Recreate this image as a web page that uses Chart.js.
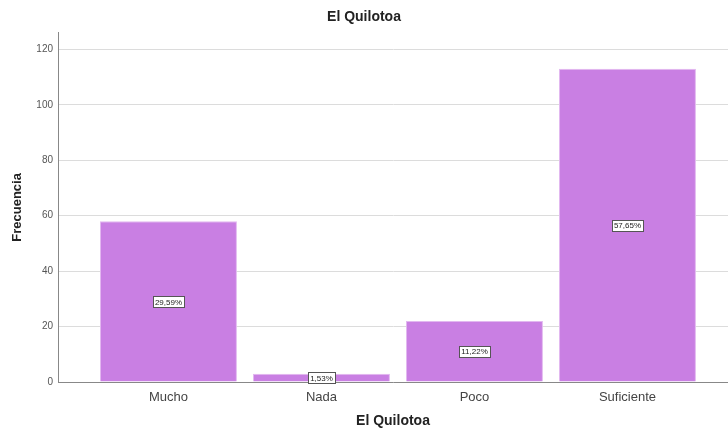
<!DOCTYPE html>
<html>
<head>
<meta charset="utf-8">
<script src="https://cdn.jsdelivr.net/npm/chart.js@4"></script>
<style>
  html, body { margin: 0; padding: 0; background: #fff; }
  #wrap { width: 728px; height: 432px; }
</style>
</head>
<body>
<div id="wrap"><canvas id="chart"></canvas></div>
<script>
// --- data ---
const categories = ['Mucho', 'Nada', 'Poco', 'Suficiente'];
const frequencies = [58, 3, 22, 113];
const percentLabels = ['29,59%', '1,53%', '11,22%', '57,65%'];
const yTicks = [0, 20, 40, 60, 80, 100, 120];

const FONT = "'Liberation Sans', Arial, sans-serif";

// white boxed percentage in the middle of every bar
const boxLabels = {
    id: 'boxLabels',
    afterDatasetsDraw(chart) {
        const c = chart.ctx;
        const meta = chart.getDatasetMeta(0);
        c.save();
        c.font = '8px ' + FONT;
        c.textAlign = 'center';
        c.textBaseline = 'middle';
        meta.data.forEach((bar, i) => {
            const p = bar.getProps(['x', 'y', 'base'], true);
            const cy = (p.y + p.base) / 2;
            const w = c.measureText(percentLabels[i]).width + 4;
            const h = 11;
            c.fillStyle = '#fff';
            c.fillRect(Math.round(p.x - w / 2) + 0.5, Math.round(cy - h / 2) + 0.5, Math.round(w), h);
            c.strokeStyle = '#555';
            c.lineWidth = 1;
            c.strokeRect(Math.round(p.x - w / 2) + 0.5, Math.round(cy - h / 2) + 0.5, Math.round(w), h);
            c.fillStyle = '#222';
            c.fillText(percentLabels[i], p.x, cy + 1);
        });
        c.restore();
    }
};

new Chart(document.getElementById('chart'), {
    type: 'bar',
    data: {
        datasets: [{
            data: frequencies.map((v, i) => ({ x: i, y: v })),
            backgroundColor: '#C97FE3',
            borderColor: '#E2B8F0',
            borderWidth: 1,
            categoryPercentage: 1,
            barPercentage: 0.895
        }]
    },
    options: {
        responsive: true,
        maintainAspectRatio: false,
        animation: false,
        layout: { padding: 0 },
        plugins: {
            legend: { display: false },
            tooltip: { enabled: false },
            title: {
                display: true,
                text: 'El Quilotoa',
                color: '#222',
                font: { family: FONT, size: 14, weight: 'bold' },
                padding: { top: 9, bottom: 7 }
            }
        },
        scales: {
            x: {
                type: 'linear',
                offset: false,
                min: -0.722,
                max: 3.657,
                grid: { display: false, drawTicks: false },
                border: { display: true, color: '#888', width: 1 },
                afterBuildTicks: s => { s.ticks = categories.map((_, i) => ({ value: i })); },
                afterFit: s => { s.height = 50; },
                ticks: {
                    padding: 8,
                    color: '#444',
                    maxRotation: 0,
                    autoSkip: false,
                    font: { family: FONT, size: 13 },
                    callback: v => categories[v]
                },
                title: {
                    display: true,
                    text: 'El Quilotoa',
                    color: '#222',
                    font: { family: FONT, size: 14, weight: 'bold' },
                    padding: { top: 0, bottom: 2 }
                }
            },
            y: {
                min: 0,
                max: 126,
                grid: { color: '#dcdcdc', drawTicks: false },
                border: { display: true, color: '#888', width: 1 },
                afterBuildTicks: s => { s.ticks = yTicks.map(v => ({ value: v })); },
                afterFit: s => { s.width = 58; },
                ticks: {
                    padding: 5,
                    color: '#555',
                    font: { family: FONT, size: 10 }
                },
                title: {
                    display: true,
                    text: 'Frecuencia',
                    color: '#222',
                    font: { family: FONT, size: 13, weight: 'bold' },
                    padding: { top: 10, bottom: 0 }
                }
            }
        }
    },
    plugins: [boxLabels]
});
</script>
</body>
</html>
